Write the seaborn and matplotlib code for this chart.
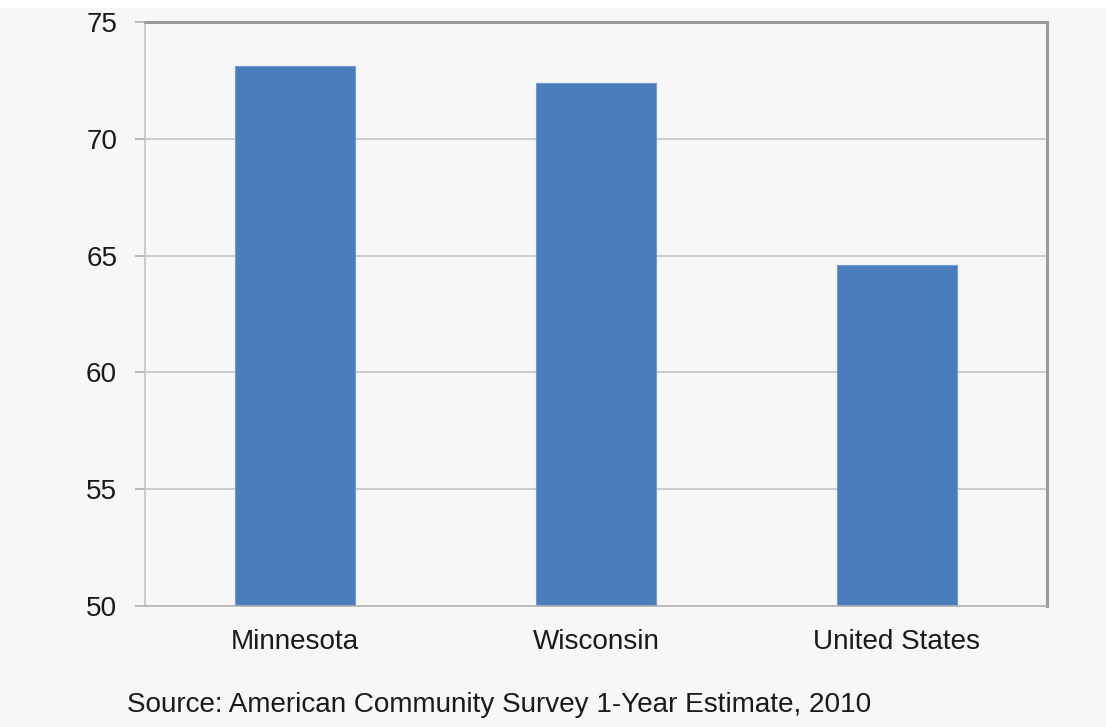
import matplotlib
matplotlib.use("Agg")
import matplotlib.pyplot as plt
import seaborn as sns
import pandas as pd
from matplotlib.patches import Rectangle

categories = ["Minnesota", "Wisconsin", "United States"]
values = [73.1, 72.4, 64.6]
yticks = [50, 55, 60, 65, 70, 75]
source_text = "Source: American Community Survey 1-Year Estimate, 2010"

sns.set_theme(style="white")
plt.rcParams['font.family'] = ['Liberation Sans', 'DejaVu Sans']

BG = "#f7f7f7"
FS = 20.1
fig = plt.figure(figsize=(11.06, 7.27), dpi=100, facecolor=BG)
ax = fig.add_axes([145/1106, 1 - 606/727, (1047-145)/1106, (606-22)/727])
ax.set_facecolor(BG)

df = pd.DataFrame({"cat": categories, "val": values})
sns.barplot(data=df, x="cat", y="val", color="#4a7ebb", saturation=1,
            width=0.4, ax=ax, edgecolor="#6f9bd0", linewidth=0.8)

ax.set_xlim(-0.5, 2.5)
ax.set_ylim(50, 75)
ax.set_yticks(yticks)
ax.set_yticklabels([str(t) for t in yticks], fontsize=FS, color="#1a1a1a")
ax.set_xlabel("")
ax.set_ylabel("")
for g in yticks[1:-1]:
    ax.axhline(g, color="#c4c4c4", lw=1.2, zorder=0)
ax.axhline(75, color="#9a9a9a", lw=2.2, zorder=3, clip_on=False)

# category boundary ticks
ax.set_xticks([0, 1, 2])
ax.set_xticklabels(categories, fontsize=FS, color="#1a1a1a")
ax.tick_params(axis="x", length=0, pad=16.5)
ax.set_xticks([-0.5, 0.5, 1.5, 2.5], minor=True)
ax.tick_params(axis="x", which="minor", length=8, width=1.2, color="#b0b0b0", direction="out")
ax.tick_params(axis="y", length=7, width=1.2, color="#b0b0b0", direction="out", pad=13, left=True)

ax.spines["top"].set_visible(False)
ax.spines["left"].set_color("#c4c4c4")
ax.spines["left"].set_linewidth(1.2)
ax.spines["bottom"].set_color("#b0b0b0")
ax.spines["bottom"].set_linewidth(1.2)
ax.spines["right"].set_color("#9a9a9a")
ax.spines["right"].set_linewidth(2.2)

fig.text(127/1106, 1 - 712/727, source_text, fontsize=FS, color="#1a1a1a",
         ha="left", va="baseline")

# white strip at top (cropped header region)
fig.patches.append(Rectangle((0, 1 - 8/727), 1, 8/727, transform=fig.transFigure,
                             facecolor="white", edgecolor="none", zorder=10))

fig.savefig("out.png", dpi=100, facecolor=BG)
